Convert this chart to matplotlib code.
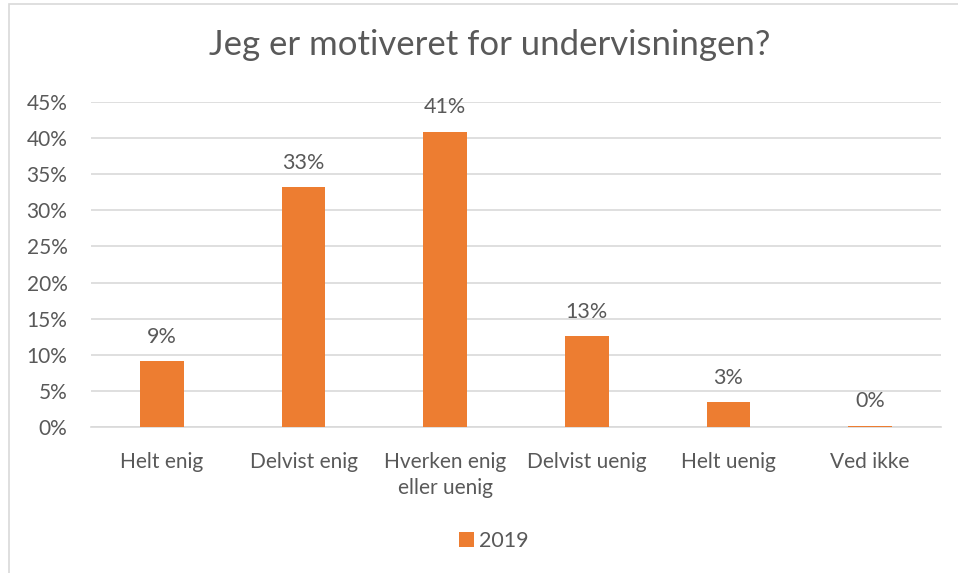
import matplotlib.pyplot as plt
from matplotlib.patches import Rectangle
from matplotlib.ticker import FuncFormatter

categories = ['Helt enig', 'Delvist enig', 'Hverken enig\neller uenig', 'Delvist uenig', 'Helt uenig', 'Ved ikke']
values_2019 = [9.1, 33.2, 40.9, 12.6, 3.4, 0.2]
value_labels = ['9%', '33%', '41%', '13%', '3%', '0%']
series_name = '2019'

plt.rcParams['font.family'] = ['Lato', 'DejaVu Sans']
text_color = '#595959'
bar_color = '#ED7D31'

fig = plt.figure(figsize=(9.58, 5.73), dpi=100)
# chart border
fig.patches.append(Rectangle((9 / 958, -0.1), 1.2, 1.1 - 4 / 573, transform=fig.transFigure,
                             fill=False, edgecolor='#D9D9D9', linewidth=1.2))

ax = fig.add_axes([91 / 958, 1 - 427 / 573, 850 / 958, 325 / 573])
x = list(range(len(categories)))
bars = ax.bar(x, values_2019, width=0.31, color=bar_color, label=series_name, zorder=3)

for xi, v, lab in zip(x, values_2019, value_labels):
    ax.text(xi, v + 2.0, lab, ha='center', va='bottom', fontsize=15.5, color=text_color)

ax.set_ylim(0, 45)
ax.set_xlim(-0.5, len(categories) - 0.5)
ax.set_yticks(range(0, 46, 5))
ax.yaxis.set_major_formatter(FuncFormatter(lambda v, p: f'{int(v)}%'))
ax.set_xticks(x)
ax.set_xticklabels(categories)
ax.grid(axis='y', color='#D9D9D9', linewidth=1.2, zorder=0)
for s in ['top', 'right', 'left']:
    ax.spines[s].set_visible(False)
ax.spines['bottom'].set_color('#D9D9D9')
ax.spines['bottom'].set_linewidth(1.2)
ax.tick_params(axis='both', length=0, labelsize=15, colors=text_color)
ax.tick_params(axis='x', pad=18)
ax.tick_params(axis='y', pad=17)
for t in ax.get_xticklabels():
    t.set_linespacing(1.35)

fig.text(490 / 958, 1 - 45 / 573, 'Jeg er motiveret for undervisningen?', ha='center', va='center',
         fontsize=25, color=text_color)

fig.legend(handles=[bars], labels=[series_name], loc='center', bbox_to_anchor=(494 / 958, 1 - 541 / 573),
           frameon=False, fontsize=15.5, labelcolor=text_color, handlelength=0.7, handleheight=0.7,
           handletextpad=0.25)

fig.savefig('out.png', dpi=100, facecolor='white')
